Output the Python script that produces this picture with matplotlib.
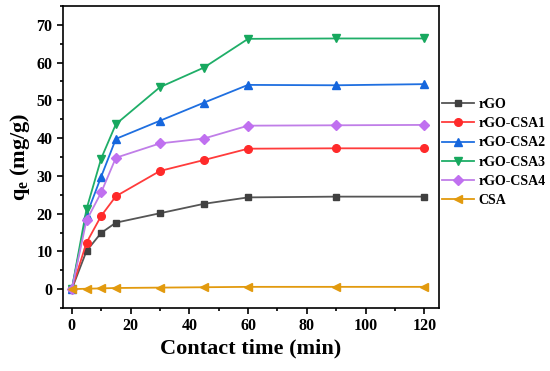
import matplotlib.pyplot as plt
from matplotlib.ticker import MultipleLocator

plt.rcParams['font.family'] = 'Liberation Serif'
plt.rcParams['font.weight'] = 'bold'
plt.rcParams['mathtext.fontset'] = 'custom'
plt.rcParams['mathtext.rm'] = 'Liberation Serif:bold'
plt.rcParams['mathtext.it'] = 'Liberation Serif:bold'
plt.rcParams['mathtext.bf'] = 'Liberation Serif:bold'

# contact time (min)
time = [0, 5, 10, 15, 30, 45, 60, 90, 120]

rgo = [0, 10.1, 14.9, 17.6, 20.1, 22.6, 24.3, 24.5, 24.5]
rgo_csa1 = [0, 12.3, 19.4, 24.6, 31.3, 34.2, 37.2, 37.3, 37.3]
rgo_csa2 = [0, 19.6, 29.8, 39.8, 44.6, 49.4, 54.1, 54.0, 54.3]
rgo_csa3 = [0, 21.2, 34.6, 43.7, 53.5, 58.7, 66.3, 66.4, 66.4]
rgo_csa4 = [0, 18.2, 25.6, 34.8, 38.6, 39.9, 43.3, 43.4, 43.5]
csa = [0, 0.1, 0.2, 0.3, 0.4, 0.5, 0.6, 0.6, 0.6]

labels = ['rGO', 'rGO-CSA1', 'rGO-CSA2', 'rGO-CSA3', 'rGO-CSA4', 'CSA']
series = [rgo, rgo_csa1, rgo_csa2, rgo_csa3, rgo_csa4, csa]
line_colors = ['#555555', '#ff3b3b', '#1f6fe0', '#1fae68', '#c07ee8', '#e29a0e']
marker_colors = ['#404040', '#ff2a2a', '#1566dd', '#17a85e', '#c070f0', '#e29a0e']
markers = ['s', 'o', '^', 'v', 'D', '<']
msizes = [5, 5.5, 6, 6, 5, 6]

fig = plt.figure(figsize=(5.5, 3.71), dpi=100)
ax = fig.add_axes([63 / 550, 1 - 308 / 371, (439 - 63) / 550, (308 - 6) / 371])

for y, lab, lc, mc, m, ms in zip(series, labels, line_colors, marker_colors, markers, msizes):
    ax.plot(time, y, color=lc, lw=1.3, marker=m, markersize=ms,
            markerfacecolor=mc, markeredgecolor=mc, label=lab)

ax.set_xlim(-3, 125)
ax.set_ylim(-5, 75)
ax.xaxis.set_major_locator(MultipleLocator(20))
ax.xaxis.set_minor_locator(MultipleLocator(10))
ax.yaxis.set_major_locator(MultipleLocator(10))
ax.yaxis.set_minor_locator(MultipleLocator(5))
ax.tick_params(which='both', direction='out', width=1.2, labelsize=11.5)
ax.tick_params(which='major', length=4)
ax.tick_params(which='minor', length=2.5)
for s in ax.spines.values():
    s.set_linewidth(1.2)

ax.set_xlabel('Contact time (min)', fontsize=16, fontweight='bold', labelpad=3)
ax.set_ylabel(r'q$_{\mathrm{e}}$ (mg/g)', fontsize=16, fontweight='bold', labelpad=3)

ax.legend(loc='upper left', bbox_to_anchor=(442 / 550, 1 - 98 / 371),
          bbox_transform=fig.transFigure, frameon=False, fontsize=10,
          handlelength=2.3, handletextpad=0.3, labelspacing=0.45,
          borderaxespad=0, borderpad=0)

fig.savefig('out.png', dpi=100)
